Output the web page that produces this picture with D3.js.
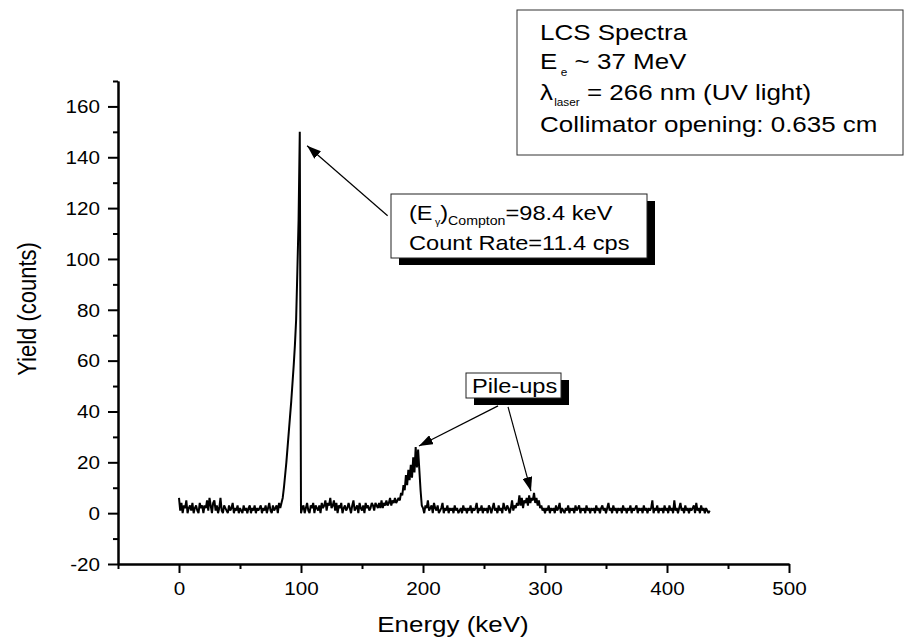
<!DOCTYPE html>
<html>
<head>
<meta charset="utf-8">
<script src="https://cdn.jsdelivr.net/npm/d3@7"></script>
<style>
  html, body { margin: 0; padding: 0; background: #fff; }
  svg { display: block; font-family: "Liberation Sans", Arial, sans-serif; }
</style>
</head>
<body>
<svg id="chart" width="905" height="637"></svg>
<script>
// ---- data ----
const energyStart = 0;      // keV of first channel
const energyStep = 1;       // keV per channel
const counts = [
  6,1,4,0,3,2,5,0,2,3,1,4,0,2,3,1,0,4,2,3,
  0,3,2,5,1,6,3,0,4,5,1,3,0,2,6,1,0,3,2,1,
  0,3,1,2,4,0,2,1,3,0,2,1,0,3,1,2,0,2,3,0,
  2,1,3,0,2,1,2,3,0,2,1,3,0,2,4,1,0,3,1,2,
  3,0,4,2,4,
  6,10,15,20,26,32,38,44,51,58,66,76,95,115,150,
  0,2,3,0,2,4,1,0,3,2,4,0,3,2,1,3,0,4,2,3,
  5,1,4,3,6,2,3,5,1,4,0,3,2,4,0,2,3,1,2,4,
  2,0,3,5,1,2,3,0,4,2,1,3,0,4,2,3,1,2,4,3,
  1,4,3,2,4,2,5,2,4,3,5,3,4,6,3,5,4,6,4,5,
  6,5,8,7,11,9,15,11,17,13,19,14,22,16,26,18,25,17,9,3,
  2,0,3,2,5,1,2,3,0,4,2,1,3,0,1,2,4,0,2,1,
  3,0,2,1,2,0,3,1,2,0,1,2,0,3,1,2,0,2,1,3,
  0,2,1,2,4,0,2,1,3,0,2,1,2,0,3,2,0,2,4,1,
  2,0,3,1,2,0,4,2,1,3,2,0,2,5,1,3,2,4,3,7,
  3,6,2,5,4,6,3,7,4,6,5,8,4,6,3,5,2,3,1,2,
  0,2,1,3,0,2,1,2,0,3,1,2,4,0,2,1,0,2,1,3,
  0,2,1,2,0,3,1,2,3,0,2,1,2,0,3,1,2,0,2,1,
  2,0,3,1,2,0,2,3,1,2,0,2,4,1,2,0,3,1,2,0,
  2,1,2,0,3,1,2,0,2,1,3,0,2,1,2,3,0,2,1,2,
  0,3,1,2,0,2,1,2,5,0,2,1,3,0,2,1,2,0,3,1,
  2,0,3,1,2,0,5,1,2,0,2,4,1,2,0,3,1,2,0,2,
  1,2,3,0,4,1,2,0,3,1,2,0,2,1,0,1
];
const xDomain = [-50, 500];
const yDomain = [-20, 170];
const xMajorTicks = [0, 100, 200, 300, 400, 500];
const xMinorTicks = [-50, 50, 150, 250, 350, 450];
const yMajorTicks = [-20, 0, 20, 40, 60, 80, 100, 120, 140, 160];
const yMinorTicks = [-10, 10, 30, 50, 70, 90, 110, 130, 150, 170];
const xTitle = "Energy (keV)";
const yTitle = "Yield (counts)";
const peakLabelLine2 = "Count Rate=11.4 cps";
const pileLabel = "Pile-ups";
// arrow endpoints in data units [fromE, fromY, toE, toY]
const arrows = [
  [171, 117, 105, 144.5],
  [261.5, 42.2, 196.7, 26.4],
  [269.7, 41.8, 288.5, 8.7]
];

// ---- drawing ----
const svg = d3.select("#chart");
const SX = 1.18; // horizontal stretch of the reference's text
const x = d3.scaleLinear().domain(xDomain).range([118, 789]);
const y = d3.scaleLinear().domain(yDomain).range([564, 81]);

// spectrum
const line = d3.line()
  .x((d, i) => x(energyStart + i * energyStep))
  .y(d => y(d));
svg.append("path")
  .datum(counts)
  .attr("d", line)
  .attr("fill", "none")
  .attr("stroke", "#000")
  .attr("stroke-width", 2)
  .attr("stroke-linejoin", "bevel");

// axes
function styleAxis(g) {
  g.selectAll("path.domain").attr("stroke", "#000").attr("stroke-width", 2);
  g.selectAll(".tick line").attr("stroke", "#000").attr("stroke-width", 2);
}
const fmt = d => String(d); // hyphen-minus as in the reference
const yAxisG = svg.append("g").attr("transform", "translate(118,0)")
  .call(d3.axisLeft(y).tickValues(yMajorTicks).tickSize(10).tickSizeOuter(0).tickFormat(fmt))
  .call(styleAxis);
yAxisG.selectAll(".tick text")
  .attr("font-size", 17.5).attr("font-family", "Liberation Sans, Arial, sans-serif")
  .attr("fill", "#000")
  .attr("x", 0).attr("dy", "0.36em")
  .attr("transform", "translate(-18,0) scale(" + SX + ",1)");
svg.append("g").attr("transform", "translate(118,0)")
  .call(d3.axisLeft(y).tickValues(yMinorTicks).tickSize(5).tickSizeOuter(0).tickFormat(""))
  .call(styleAxis);

const xAxisG = svg.append("g").attr("transform", "translate(0,564)")
  .call(d3.axisBottom(x).tickValues(xMajorTicks).tickSize(9).tickSizeOuter(0).tickFormat(fmt))
  .call(styleAxis);
xAxisG.selectAll(".tick text")
  .attr("font-size", 17.5).attr("font-family", "Liberation Sans, Arial, sans-serif")
  .attr("fill", "#000")
  .attr("y", 0).attr("dy", 0)
  .attr("transform", "translate(0,31) scale(" + SX + ",1)");
svg.append("g").attr("transform", "translate(0,564)")
  .call(d3.axisBottom(x).tickValues(xMinorTicks).tickSize(5).tickSizeOuter(0).tickFormat(""))
  .call(styleAxis);

// axis titles
svg.append("text")
  .attr("transform", "translate(453,632) scale(" + SX + ",1)")
  .attr("text-anchor", "middle").attr("font-size", 22).text(xTitle);
svg.append("text")
  .attr("transform", "translate(36,309) scale(" + SX + ",1) rotate(-90)")
  .attr("text-anchor", "middle").attr("font-size", 22).text(yTitle);

// info box (top right)
svg.append("rect").attr("x", 517).attr("y", 10).attr("width", 386).attr("height", 145)
  .attr("fill", "#fff").attr("stroke", "#333").attr("stroke-width", 1);
function boxText(tx, ty, size) {
  return svg.append("text")
    .attr("transform", "translate(" + tx + "," + ty + ") scale(" + SX + ",1)")
    .attr("font-size", size).attr("fill", "#000");
}
boxText(540, 40, 22).text("LCS Spectra");
const t2 = boxText(540, 69, 22);
t2.append("tspan").text("E");
t2.append("tspan").attr("font-size", 10).attr("dx", 3).attr("dy", 7).text("e");
t2.append("tspan").attr("dy", -7).text(" ~ 37 MeV");
const t3 = boxText(540, 100, 22);
t3.append("tspan").text("λ");
t3.append("tspan").attr("font-size", 10).attr("dx", 1).attr("dy", 6).text("laser");
t3.append("tspan").attr("dy", -6).text(" = 266 nm (UV light)");
boxText(540, 132, 22).text("Collimator opening: 0.635 cm");

// shadowed annotation boxes
function shadowBox(bx, by, bw, bh) {
  svg.append("rect").attr("x", bx + 8).attr("y", by + 7).attr("width", bw).attr("height", bh)
    .attr("fill", "#000");
  svg.append("rect").attr("x", bx).attr("y", by).attr("width", bw).attr("height", bh)
    .attr("fill", "#fff").attr("stroke", "#222").attr("stroke-width", 1);
}
shadowBox(391, 194, 256, 64);
const c1 = boxText(409, 220, 20);
c1.append("tspan").text("(E");
c1.append("tspan").attr("font-size", 9).attr("dx", 2).attr("dy", 5).text("γ");
c1.append("tspan").attr("dy", -5).text(")");
c1.append("tspan").attr("font-size", 12).attr("dy", 5).text("Compton");
c1.append("tspan").attr("dy", -5).text("=98.4 keV");
boxText(409, 250, 20).text(peakLabelLine2);

shadowBox(466, 373, 95, 25);
boxText(472, 393, 20).text(pileLabel);

// arrows
const defs = svg.append("defs");
defs.append("marker").attr("id", "ah")
  .attr("markerUnits", "userSpaceOnUse")
  .attr("viewBox", "0 0 14 10").attr("refX", 14).attr("refY", 5)
  .attr("markerWidth", 14).attr("markerHeight", 10)
  .attr("orient", "auto")
  .append("path").attr("d", "M0,0 L14,5 L0,10 Z").attr("fill", "#000");
svg.selectAll("line.arrow").data(arrows).enter().append("line")
  .attr("class", "arrow")
  .attr("x1", d => x(d[0])).attr("y1", d => y(d[1]))
  .attr("x2", d => x(d[2])).attr("y2", d => y(d[3]))
  .attr("stroke", "#000").attr("stroke-width", 1.2)
  .attr("marker-end", "url(#ah)");
</script>
</body>
</html>
